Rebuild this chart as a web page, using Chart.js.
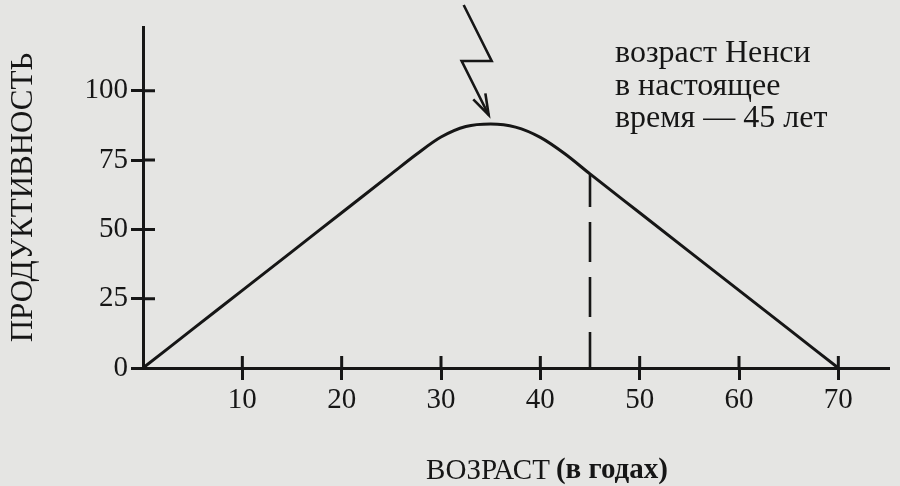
<!doctype html>
<html lang="ru">
  <head>
    <meta charset="UTF-8" />
    <title>Продуктивность и возраст</title>
    <script src="https://cdn.jsdelivr.net/npm/chart.js"></script>
    <style>
      body {
        margin: 0;
        background-color: #e5e5e3;
      }
      #wrap {
        width: 900px;
        height: 486px;
      }
    </style>
  </head>
  <body>
    <div id="wrap"><canvas id="ageChart" width="900" height="486"></canvas></div>

    <script>
      // values
      const ages = [0, 5, 10, 15, 20, 25, 27.5, 30, 32.5, 35, 37.5, 40, 42.5, 45, 50, 55, 60, 65, 70];
      const productivity = [0, 14, 28, 42, 56, 70, 77, 83.3, 87.1, 88, 86.9, 83.2, 77.2, 70, 56, 42, 28, 14, 0];
      const xTicks = [10, 20, 30, 40, 50, 60, 70];
      const yTicks = [0, 25, 50, 75, 100];
      const nowAge = 45;
      const noteLines = ["возраст Ненси", "в настоящее", "время — 45 лет"];

      const ink = "#161616";
      const serif = "'Liberation Serif', 'DejaVu Serif', serif";

      const curve = ages.map((a, i) => ({ x: a, y: productivity[i] }));
      const nowValue = productivity[ages.indexOf(nowAge)];
      const peakIdx = productivity.indexOf(Math.max(...productivity));

      // tick halves inside the plot, the bolt arrow, the note and the x title
      const extras = {
        id: "extras",
        afterDraw(chart) {
          const { ctx, scales } = chart;
          const xs = scales.x, ys = scales.y;
          const area = chart.chartArea;
          ctx.save();
          ctx.strokeStyle = ink;
          ctx.lineWidth = 3;
          ctx.beginPath();
          xTicks.forEach((t) => {
            const px = xs.getPixelForValue(t);
            ctx.moveTo(px, area.bottom);
            ctx.lineTo(px, area.bottom - 12);
          });
          yTicks.slice(1).forEach((t) => {
            const py = ys.getPixelForValue(t);
            ctx.moveTo(area.left, py);
            ctx.lineTo(area.left + 12, py);
          });
          ctx.stroke();

          // lightning arrow pointing at the peak
          const px = xs.getPixelForValue(ages[peakIdx]);
          const py = ys.getPixelForValue(productivity[peakIdx]);
          const tipX = px - 2, tipY = py - 9;
          ctx.lineWidth = 2.6;
          ctx.lineJoin = "miter";
          ctx.beginPath();
          ctx.moveTo(px - 27, py - 119);
          ctx.lineTo(px + 1, py - 63);
          ctx.lineTo(px - 29, py - 63);
          ctx.lineTo(tipX, tipY);
          ctx.stroke();
          ctx.beginPath();
          ctx.moveTo(tipX - 3.3, tipY - 21.7);
          ctx.lineTo(tipX, tipY);
          ctx.lineTo(tipX - 15.4, tipY - 15.7);
          ctx.stroke();

          // note
          ctx.fillStyle = ink;
          ctx.textBaseline = "alphabetic";
          ctx.textAlign = "left";
          ctx.font = "32px " + serif;
          noteLines.forEach((line, i) => {
            ctx.fillText(line, 615, 62 + i * 32.5);
          });

          // x axis title
          const main = "ВОЗРАСТ";
          const sub = "(в годах)";
          ctx.font = "29px " + serif;
          const w1 = ctx.measureText(main).width;
          ctx.font = "bold 29px " + serif;
          const w2 = ctx.measureText(sub).width;
          const gap = 6;
          const start = 547 - (w1 + gap + w2) / 2;
          ctx.font = "29px " + serif;
          ctx.fillText(main, start, 479);
          ctx.font = "bold 29px " + serif;
          ctx.fillText(sub, start + w1 + gap, 478);
          ctx.restore();
        },
      };

      new Chart(document.getElementById("ageChart"), {
        type: "line",
        data: {
          datasets: [
            {
              data: curve,
              borderColor: ink,
              borderWidth: 3,
              pointRadius: 0,
              cubicInterpolationMode: "monotone",
              fill: false,
            },
            {
              data: [
                { x: nowAge, y: nowValue },
                { x: nowAge, y: 0 },
              ],
              borderColor: ink,
              borderWidth: 2.6,
              borderDash: [40, 15],
              borderDashOffset: 7,
              pointRadius: 0,
              fill: false,
            },
          ],
        },
        options: {
          responsive: false,
          devicePixelRatio: 1,
          animation: false,
          layout: { padding: { top: 27, right: 12, left: 0, bottom: 0 } },
          plugins: { legend: { display: false }, tooltip: { enabled: false } },
          scales: {
            x: {
              type: "linear",
              min: 0,
              max: 75,
              afterBuildTicks: (s) => {
                s.ticks = xTicks.map((v) => ({ value: v }));
              },
              afterFit: (s) => {
                s.height = 118;
              },
              grid: {
                drawOnChartArea: false,
                color: ink,
                lineWidth: 3,
                tickLength: 12,
              },
              border: { display: true, color: ink, width: 3 },
              ticks: {
                color: ink,
                padding: 3,
                maxRotation: 0,
                font: { family: serif, size: 29 },
              },
            },
            y: {
              min: 0,
              max: 123,
              afterBuildTicks: (s) => {
                s.ticks = yTicks.map((v) => ({ value: v }));
              },
              afterFit: (s) => {
                s.width = 143;
              },
              grid: {
                drawOnChartArea: false,
                color: ink,
                lineWidth: 3,
                tickLength: 12,
              },
              border: { display: true, color: ink, width: 3 },
              ticks: {
                color: ink,
                padding: 3,
                font: { family: serif, size: 29 },
              },
              title: {
                display: true,
                text: "ПРОДУКТИВНОСТЬ",
                color: ink,
                padding: { top: 5, bottom: 0 },
                font: { family: serif, size: 31 },
              },
            },
          },
        },
        plugins: [extras],
      });
    </script>
  </body>
</html>
